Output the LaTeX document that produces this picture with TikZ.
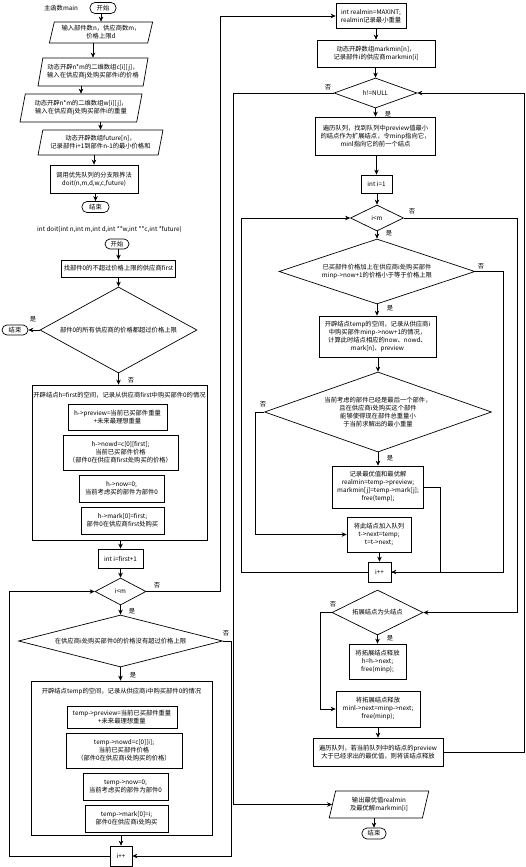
\documentclass[tikz,border=0pt]{standalone}
\usepackage{fontspec}
\setmainfont{Noto Sans CJK SC}
\usetikzlibrary{arrows.meta, positioning, shapes.geometric}

\begin{document}
\begin{tikzpicture}[x=1pt, y=-1pt, >={Stealth[length=5pt,width=4.5pt]}, line width=0.7pt,
    font=\fontsize{6.3}{8}\selectfont,
    sz/.style 2 args={minimum width=#1pt, minimum height=#2pt},
    box/.style={draw, align=center, inner sep=1pt},
    term/.style={draw, rounded corners=5pt, inner sep=1pt},
    io/.style={draw, trapezium, trapezium left angle=75, trapezium right angle=105,
      trapezium stretches=true, align=center, inner sep=1pt},
    dia/.style={draw, diamond, align=center, inner sep=0.5pt},
    lbl/.style={inner sep=0pt}]
  \useasboundingbox (0,0) rectangle (526,867);

  % main function
  \node[term, sz={26}{11}] (mstart) at (103,8) {开始};
  \node[left=8pt of mstart] (mtitle) {主函数main};
  \node[io, sz={104}{21}] (in1) at (101,32.5) {输入部件数n，供应商数m，\\价格上限d};
  \node[io, sz={110}{28}] (in2) at (93,72) {动态开辟n*m的二维数组c[i][j]，\\输入在供应商j处购买部件i的价格};
  \node[io, sz={122}{28}] (in3) at (81,108) {动态开辟n*m的二维数组w[i][j]，\\输入在供应商j处购买部件i的重量};
  \node[io, sz={125}{25}] (in4) at (100.5,142.5) {动态开辟数组future[n]，\\记录部件i+1到部件n-1的最小价格和};
  \node[box, sz={88}{28}] (call) at (94,179) {调用优先队列的分支限界法\\doit(n,m,d,w,c,future)};
  \node[term, sz={27}{11}] (mend) at (95.5,207) {结束};

  \draw[->] (in1.north |- mstart.south) -- (in1.north);
  \draw[->] (in2.north |- in1.south) -- (in2.north);
  \draw[->] (in3.north |- in2.south) -- (in3.north);
  \draw[->] (in4.north |- in3.south) -- (in4.north);
  \draw[->] (call.north |- in4.south) -- (call.north);
  \draw[->] (mend.north |- call.south) -- (mend.north);

  % doit
  \node (dtitle) at (109.5,230) {int doit(int n,int m,int d,int **w,int **c,int *future)};
  \node[term, sz={24}{10}] (dstart) at (117,244) {开始};
  \node[box, sz={114}{17}] (ffirst) at (118.5,268.5) {找部件0的不超过价格上限的供应商first};
  \node[dia, sz={157}{86}, aspect=1.83] (allover) at (118.5,330) {部件0的所有供应商的价格都超过价格上限};
  \node[term, sz={26}{10}] (dend) at (15,330) {结束};

  \node[box, sz={175}{155}] (hbox) at (119.5,462.5) {};
  \node[below=4pt of hbox.north] (htitle) {开辟结点h=first的空间，记录从供应商first中购买部件0的情况};
  \node[box, sz={99}{26}] (hpv) at (117.5,417) {h->preview=当前已买部件重量\\+未来最理想重量};
  \node[box, sz={115}{35}] (hnowd) at (120.5,452.5) {h->nowd=c[0][first];\\当前已买部件价格\\（部件0在供应商first处购买的价格）};
  \node[box, sz={85}{27}] (hnow) at (121.5,488.5) {h->now=0;\\当前考虑买的部件为部件0};
  \node[box, sz={83}{27}] (hmark) at (122.5,520.5) {h->mark[0]=first;\\部件0在供应商first处购买};

  \node[box, sz={45}{19}] (initi) at (120.5,558.5) {int i=first+1};
  \node[dia, sz={51}{27}, aspect=1.9] (loopi) at (120.5,591.5) {i<m};
  \node[dia, sz={204}{52}, aspect=3.9] (buyi) at (120.5,641) {在供应商i处购买部件0的价格没有超过价格上限};

  \node[box, sz={181}{154}] (tbox) at (121.5,758) {};
  \node[below=4pt of tbox.north] (ttitle) {开辟结点temp的空间，记录从供应商i中购买部件0的情况};
  \node[box, sz={110}{22}] (tpv) at (122,717) {temp->preview=当前已买部件重量\\+未来最理想重量};
  \node[box, sz={116}{35}] (tnowd) at (124,750.5) {temp->nowd=c[0][i];\\当前已买部件价格\\（部件0在供应商i处购买的价格）};
  \node[box, sz={85}{27}] (tnow) at (125.5,786.5) {temp->now=0;\\当前考虑买的部件为部件0};
  \node[box, sz={83}{27}] (tmark) at (126.5,818.5) {temp->mark[0]=i;\\部件0在供应商i处购买};
  \node[box, sz={22}{20}] (ipp) at (121,856) {i++};

  \draw[->] (ffirst.north |- dstart.south) -- (ffirst.north);
  \draw[->] (allover.north |- ffirst.south) -- (allover.north);
  \draw[->] (allover.south) -- (allover.south |- hbox.north);
  \draw[->] (allover.west) -- (dend.east);
  \draw[->] (initi.north |- hbox.south) -- (initi.north);
  \draw[->] (loopi.north |- initi.south) -- (loopi.north);
  \draw[->] (loopi.south) -- (buyi.north);
  \draw[->] (buyi.south) -- (buyi.south |- tbox.north);
  \draw[->] (ipp.north |- tbox.south) -- (ipp.north);
  \draw[->] (buyi.east) -- ++(8,0) |- (ipp.east);
  \draw[->] (ipp.west) -- ++(-100,0) |- (loopi.west);

  \node[lbl] (yes1) at (33,319) {是};
  \node[lbl] (no1) at (131,380) {否};
  \node[lbl] (no2) at (157,585) {否};
  \node[lbl] (yes2) at (132,611) {是};
  \node[lbl] (no3) at (226,633) {否};
  \node[lbl] (yes3) at (133,675) {是};

  % branch and bound loop
  \node[box, sz={70}{25}] (realmin) at (371,16) {int realmin=MAXINT;\\realmin记录最小重量};
  \node[box, sz={118}{27}] (markmin) at (376,53.5) {动态开辟数组markmin[n]，\\记录部件i的供应商markmin[i]};
  \node[dia, sz={83}{30}, aspect=2.8] (hnull) at (375.5,93) {h!=NULL};
  \node[box, sz={120}{38}] (expand) at (375.5,136) {遍历队列，找到队列中preview值最小\\的结点作为扩展结点，令minp指向它，\\minl指向它的前一个结点};
  \node[box, sz={31}{18}] (jinit) at (376.5,184) {int i=1};
  \node[dia, sz={53}{26}, aspect=2] (loopj) at (377,218) {i<m};
  \node[dia, sz={196}{65}, aspect=3] (check) at (377,271.5) {已买部件价格加上在供应商i处购买部件\\minp->now+1的价格小于等于价格上限};
  \node[box, sz={117}{41}] (mktemp) at (377.5,336.5) {开辟结点temp的空间，记录从供应商i\\中购买部件minp->now+1的情况，\\计算此时结点相应的now、nowd、\\mark[n]、preview};
  \node[dia, sz={227}{80}, aspect=2.84] (last) at (378,412) {当前考虑的部件已经是最后一个部件，\\且在供应商i处购买这个部件\\能够使得现在部件总重量小\\于当前求解出的最小重量};
  \node[box, sz={91}{42}] (record) at (378,487) {记录最优值和最优解\\realmin=temp->preview;\\markmin[j]=temp->mark[j];\\free(temp);};
  \node[box, sz={64}{35}] (enq) at (379,534.5) {将此结点加入队列\\t->next=temp;\\t=t->next;};
  \node[box, sz={23}{20}] (jpp) at (379.5,572) {i++};
  \node[dia, sz={91}{45}, aspect=2] (ishead) at (377.5,612.5) {拓展结点为头结点};
  \node[box, sz={57}{35}] (headfree) at (377.5,661.5) {将拓展结点释放\\h=h->next;\\free(minp);};
  \node[box, sz={84}{36}] (midfree) at (378,709) {将拓展结点释放\\minl->next=minp->next;\\free(minp);};
  \node[box, sz={130}{28}] (prune) at (378,752) {遍历队列，若当前队列中的结点的preview\\大于已经求出的最优值，则将该结点释放};
  \node[io, sz={100}{27}] (output) at (379,804.5) {输出最优值realmin\\及最优解markmin[i]};
  \node[term, sz={24}{11}] (rend) at (374,833.5) {结束};

  \draw[->] (loopi.east) -- ++(74,0) |- (realmin.west);
  \draw[->] (markmin.north |- realmin.south) -- (markmin.north);
  \draw[->] (hnull.north |- markmin.south) -- (hnull.north);
  \draw[->] (hnull.south) -- (hnull.south |- expand.north);
  \draw[->] (jinit.north |- expand.south) -- (jinit.north);
  \draw[->] (loopj.north |- jinit.south) -- (loopj.north);
  \draw[->] (loopj.south) -- (check.north);
  \draw[->] (check.south) -- (check.south |- mktemp.north);
  \draw[->] (last.north |- mktemp.south) -- (last.north);
  \draw[->] (last.south) -- (last.south |- record.north);
  \draw[->] (jpp.north |- enq.south) -- (jpp.north);
  \draw[->] (ishead.south) -- (ishead.south |- headfree.north);
  \draw[->] (prune.north |- midfree.south) -- (prune.north);
  \draw[->] (rend.north |- output.south) -- (rend.north);
  \draw[->] (last.west) -- ++(-9,0) |- (enq.west);
  \draw[->] (check.east) -- ++(28,0) |- (jpp.east);
  \draw (record.east) -- ++(16,0) |- (jpp.east);
  \draw[->] (jpp.west) -- ++(-126,0) |- (loopj.west);
  \draw[->] (loopj.east) -- ++(113,0) |- (ishead.east);
  \draw[->] (ishead.west) -- ++(-11,0) |- (midfree.west);
  \draw[->] (prune.east) -- ++(81,0) |- (hnull.east);
  \draw[->] (hnull.west) -- ++(-100,0) |- (output.west);

  \node[lbl] (no4) at (328,87) {否};
  \node[lbl] (yes4) at (388,114) {是};
  \node[lbl] (no5) at (412,211) {否};
  \node[lbl] (yes5) at (389,233) {是};
  \node[lbl] (no6) at (481,266) {否};
  \node[lbl] (yes6) at (390,308) {是};
  \node[lbl] (no7) at (263,404) {否};
  \node[lbl] (yes7) at (390,458) {是};
  \node[lbl] (no8) at (333,604) {否};
  \node[lbl] (yes8) at (390,638) {是};
\end{tikzpicture}
\end{document}
